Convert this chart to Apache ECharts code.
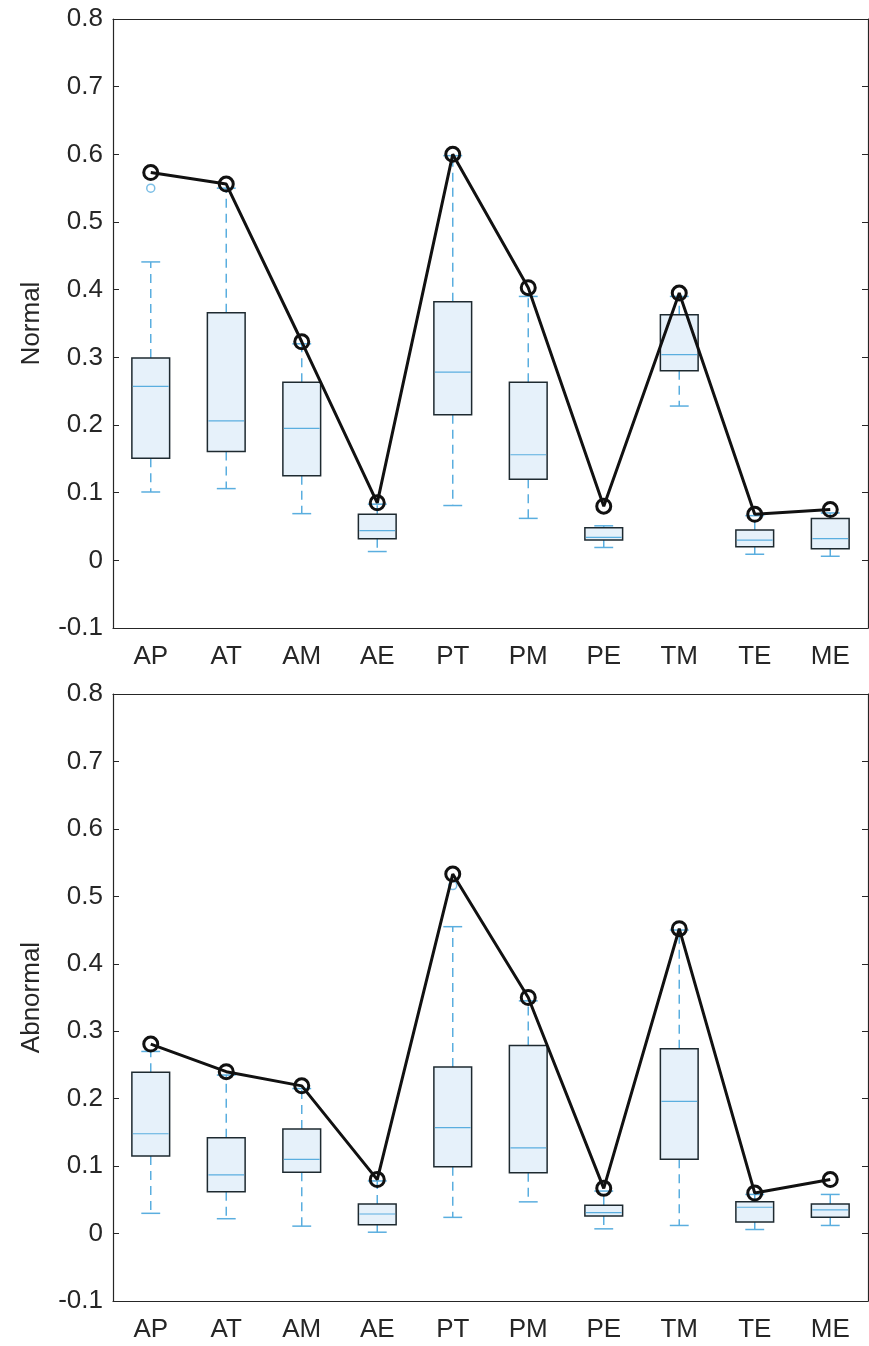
<!DOCTYPE html>
<html>
<head>
<meta charset="utf-8">
<script src="https://cdn.jsdelivr.net/npm/echarts@6/dist/echarts.min.js"></script>
<style>
  html, body { margin: 0; padding: 0; background: #fff; }
  #chart { width: 869px; height: 1346px; }
</style>
</head>
<body>
<div id="chart"></div>
<script>
// categories
const categories = ['AP', 'AT', 'AM', 'AE', 'PT', 'PM', 'PE', 'TM', 'TE', 'ME'];
const yTicks = [-0.1, 0, 0.1, 0.2, 0.3, 0.4, 0.5, 0.6, 0.7, 0.8];

// Normal panel: box stats + black line
const normalLow = [0.101, 0.106, 0.069, 0.013, 0.081, 0.062, 0.019, 0.228, 0.009, 0.006];
const normalQ1 = [0.151, 0.161, 0.125, 0.032, 0.215, 0.120, 0.030, 0.280, 0.020, 0.017];
const normalMed = [0.257, 0.206, 0.195, 0.044, 0.278, 0.156, 0.034, 0.304, 0.030, 0.032];
const normalQ3 = [0.299, 0.366, 0.263, 0.068, 0.382, 0.263, 0.048, 0.363, 0.045, 0.062];
const normalHigh = [0.441, 0.550, 0.320, 0.083, 0.598, 0.390, 0.051, 0.390, 0.066, 0.070];
const normalLine = [0.573, 0.556, 0.323, 0.085, 0.600, 0.403, 0.080, 0.395, 0.068, 0.075];
const normalOutliers = [['AP', 0.550]];

// Abnormal panel
const abnormalLow = [0.030, 0.022, 0.011, 0.002, 0.024, 0.047, 0.007, 0.012, 0.006, 0.012];
const abnormalQ1 = [0.115, 0.062, 0.091, 0.013, 0.099, 0.090, 0.026, 0.110, 0.017, 0.024];
const abnormalMed = [0.148, 0.087, 0.110, 0.029, 0.157, 0.127, 0.031, 0.196, 0.039, 0.035];
const abnormalQ3 = [0.239, 0.142, 0.155, 0.044, 0.247, 0.279, 0.042, 0.274, 0.047, 0.044];
const abnormalHigh = [0.270, 0.235, 0.215, 0.078, 0.455, 0.345, 0.063, 0.450, 0.058, 0.058];
const abnormalLine = [0.281, 0.240, 0.219, 0.080, 0.533, 0.350, 0.067, 0.452, 0.060, 0.080];
const abnormalOutliers = [['PT', 0.516]];

const axisColor = '#262626';
const boxBlue = '#5AAEDF';
const boxFill = '#E6F1FA';
const font = 'Liberation Sans, Arial, sans-serif';

function boxData(lo, q1, md, q3, hi) {
    return categories.map((c, i) => [i, lo[i], q1[i], md[i], q3[i], hi[i]]);
}

function renderBox(params, api) {
    const x = api.value(0);
    const lo = api.coord([x, api.value(1)]);
    const q1 = api.coord([x, api.value(2)]);
    const md = api.coord([x, api.value(3)]);
    const q3 = api.coord([x, api.value(4)]);
    const hi = api.coord([x, api.value(5)]);
    const band = api.size([1, 0])[0];
    const bw = band * 0.5;
    const cw = band * 0.25;
    const cx = lo[0];
    const dashed = { stroke: boxBlue, lineWidth: 1.5, lineDash: [9, 6] };
    const solid = { stroke: boxBlue, lineWidth: 1.5 };
    return {
        type: 'group',
        children: [
            { type: 'line', shape: { x1: cx, y1: q3[1], x2: cx, y2: hi[1] }, style: dashed },
            { type: 'line', shape: { x1: cx, y1: q1[1], x2: cx, y2: lo[1] }, style: dashed },
            { type: 'line', shape: { x1: cx - cw / 2, y1: hi[1], x2: cx + cw / 2, y2: hi[1] }, style: solid },
            { type: 'line', shape: { x1: cx - cw / 2, y1: lo[1], x2: cx + cw / 2, y2: lo[1] }, style: solid },
            {
                type: 'rect',
                shape: { x: cx - bw / 2, y: q3[1], width: bw, height: q1[1] - q3[1] },
                style: { fill: boxFill, stroke: '#1e2a30', lineWidth: 1.5 }
            },
            { type: 'line', shape: { x1: cx - bw / 2 + 1, y1: md[1], x2: cx + bw / 2 - 1, y2: md[1] }, style: { stroke: boxBlue, lineWidth: 1.2 } }
        ]
    };
}

const tops = [19, 694];
const heights = [609, 607];
const names = ['Normal', 'Abnormal'];
const panels = [
    { box: boxData(normalLow, normalQ1, normalMed, normalQ3, normalHigh), line: normalLine, out: normalOutliers },
    { box: boxData(abnormalLow, abnormalQ1, abnormalMed, abnormalQ3, abnormalHigh), line: abnormalLine, out: abnormalOutliers }
];

let grid = [], xAxis = [], yAxis = [], series = [];
panels.forEach((p, k) => {
    grid.push({ left: 113, right: 1, top: tops[k], height: heights[k] });
    // bottom x axis
    xAxis.push({
        type: 'category', data: categories, gridIndex: k, position: 'bottom',
        axisLine: { onZero: false, lineStyle: { color: axisColor, width: 1.2 } },
        axisTick: { inside: true, alignWithLabel: true, length: 6, lineStyle: { color: axisColor } },
        axisLabel: { color: axisColor, fontSize: 26, fontFamily: font, margin: 16 }
    });
    // top x axis (box frame)
    xAxis.push({
        type: 'category', data: categories, gridIndex: k, position: 'top',
        axisLine: { onZero: false, lineStyle: { color: axisColor, width: 1.2 } },
        axisTick: { inside: true, alignWithLabel: true, length: 6, lineStyle: { color: axisColor } },
        axisLabel: { show: false }
    });
    yAxis.push({
        type: 'value', gridIndex: k, min: -0.1, max: 0.8, interval: 0.1, position: 'left',
        name: names[k], nameLocation: 'middle', nameGap: 68, nameRotate: 90,
        nameTextStyle: { color: axisColor, fontSize: 26, fontFamily: font },
        axisLine: { show: true, onZero: false, lineStyle: { color: axisColor, width: 1.2 } },
        axisTick: { show: true, inside: true, length: 6, lineStyle: { color: axisColor } },
        axisLabel: {
            color: axisColor, fontSize: 26, fontFamily: font, margin: 10,
            formatter: v => String(+v.toFixed(1))
        },
        splitLine: { show: false }
    });
    yAxis.push({
        type: 'value', gridIndex: k, min: -0.1, max: 0.8, interval: 0.1, position: 'right',
        axisLine: { show: true, onZero: false, lineStyle: { color: axisColor, width: 1.2 } },
        axisTick: { show: true, inside: true, length: 6, lineStyle: { color: axisColor } },
        axisLabel: { show: false },
        splitLine: { show: false }
    });
    series.push({
        type: 'custom', xAxisIndex: 2 * k, yAxisIndex: 2 * k,
        renderItem: renderBox, data: p.box,
        encode: { x: 0, y: [1, 2, 3, 4, 5] }, z: 2, silent: true
    });
    series.push({
        type: 'scatter', xAxisIndex: 2 * k, yAxisIndex: 2 * k,
        data: p.out, symbol: 'circle', symbolSize: 8, z: 3,
        itemStyle: { color: '#fff', borderColor: boxBlue, borderWidth: 1.5 }
    });
    series.push({
        type: 'line', xAxisIndex: 2 * k, yAxisIndex: 2 * k,
        data: p.line, symbol: 'circle', symbolSize: 14, z: 5,
        lineStyle: { color: '#111', width: 3 },
        itemStyle: { color: 'rgba(255,255,255,0)', borderColor: '#111', borderWidth: 3 }
    });
});

const chart = echarts.init(document.getElementById('chart'));
chart.setOption({
    animation: false,
    backgroundColor: '#fff',
    grid: grid,
    xAxis: xAxis,
    yAxis: yAxis,
    series: series
});
</script>
</body>
</html>
